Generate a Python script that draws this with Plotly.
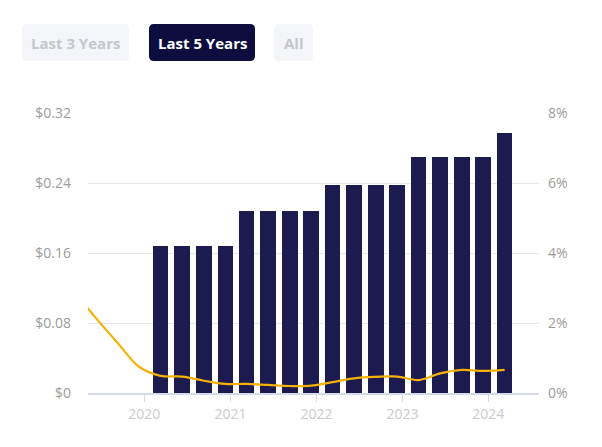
import plotly.graph_objects as go

# quarterly dividend per share
bar_dates = ["2020-03-10", "2020-06-10", "2020-09-10", "2020-12-10",
             "2021-03-10", "2021-06-10", "2021-09-10", "2021-12-10",
             "2022-03-10", "2022-06-10", "2022-09-10", "2022-12-10",
             "2023-03-10", "2023-06-10", "2023-09-10", "2023-12-10",
             "2024-03-10"]
dividends = [0.168, 0.168, 0.168, 0.168,
             0.208, 0.208, 0.208, 0.208,
             0.238, 0.238, 0.238, 0.238,
             0.27, 0.27, 0.27, 0.27,
             0.297]

# dividend yield (%)
yield_dates = ["2019-03-10", "2019-06-10", "2019-09-10", "2019-12-10"] + bar_dates
yields = [2.9, 2.14, 1.43, 0.75,
          0.49, 0.47, 0.35, 0.26,
          0.26, 0.23, 0.2, 0.21,
          0.31, 0.42, 0.46, 0.47,
          0.37, 0.56, 0.66, 0.63,
          0.66]

year_ticks = ["2020-01-01", "2021-01-01", "2022-01-01", "2023-01-01", "2024-01-01"]
year_labels = ["2020", "2021", "2022", "2023", "2024"]
left_ticks = [0, 0.08, 0.16, 0.24, 0.32]
left_labels = ["$0", "$0.08", "$0.16", "$0.24", "$0.32"]
right_ticks = [0, 2, 4, 6, 8]
right_labels = ["0%", "2%", "4%", "6%", "8%"]
buttons = ["Last 3 Years", "Last 5 Years", "All"]

FONT = "Open Sans, Lato, sans-serif"
# page body has an 8px margin, so the figure is a bit smaller
W, H = 594, 439
L, R, T, B = 80, 63, 105, 54
pw, ph = W - L - R, H - T - B

# helpers take pixel positions of the full page
def px(x):
    return (x - 88) / pw

def py(y):
    return (393 - y) / ph

def rounded(x0, y0, x1, y1, r=5):
    rx, ry = r / pw, r / ph
    a, b, c, d = px(x0), py(y1), px(x1), py(y0)
    return (f"M {a+rx},{b} L {c-rx},{b} Q {c},{b} {c},{b+ry} L {c},{d-ry} "
            f"Q {c},{d} {c-rx},{d} L {a+rx},{d} Q {a},{d} {a},{d-ry} "
            f"L {a},{b+ry} Q {a},{b} {a+rx},{b} Z")

fig = go.Figure()
fig.add_trace(go.Bar(x=bar_dates, y=dividends, marker_color="#1c1a4e",
                     marker_line_width=0, width=66 * 86400000))
fig.add_trace(go.Scatter(x=yield_dates, y=yields, yaxis="y2", mode="lines",
                         line=dict(color="#f6b106", width=2.2, shape="spline", smoothing=1)))

# buttons
boxes = [(22, 24, 129, 61), (149, 24, 255, 61), (274, 24, 313, 61)]
for i, (label, box) in enumerate(zip(buttons, boxes)):
    active = i == 1
    fig.add_shape(type="path", path=rounded(*box), xref="paper", yref="paper",
                  fillcolor="#0d0d3f" if active else "#f4f5f8", line_width=0, layer="above")
    fig.add_annotation(x=px((box[0] + box[2]) / 2), y=py((box[1] + box[3]) / 2),
                       xref="paper", yref="paper", xanchor="center", yanchor="middle",
                       text=label, showarrow=False,
                       font=dict(family=FONT, size=15, color="#ffffff" if active else "#c6c7cd",
                                 weight=700))

fig.update_layout(
    width=W, height=H,
    margin=dict(l=L, r=R, t=T, b=B),
    paper_bgcolor="white", plot_bgcolor="white",
    showlegend=False, bargap=0,
    font=dict(family=FONT, size=14, color="#9c9c9c"),
    xaxis=dict(type="date", range=["2019-05-07", "2024-08-03"],
               tickvals=year_ticks, ticktext=year_labels,
               showgrid=False, showline=True, linecolor="#d5dae8", linewidth=1.5,
               ticks="outside", ticklen=7, tickcolor="#d5dae8",
               tickfont=dict(color="#cacace", size=14)),
    yaxis=dict(range=[0, 0.32], tickvals=left_ticks, ticktext=left_labels,
               showgrid=True, gridcolor="#e8e8e8", zeroline=False,
               ticklabelstandoff=16),
    yaxis2=dict(range=[0, 8], overlaying="y", side="right",
                tickvals=right_ticks, ticktext=right_labels,
                showgrid=False, zeroline=False, ticklabelstandoff=8),
)

fig.write_html("out.html")
